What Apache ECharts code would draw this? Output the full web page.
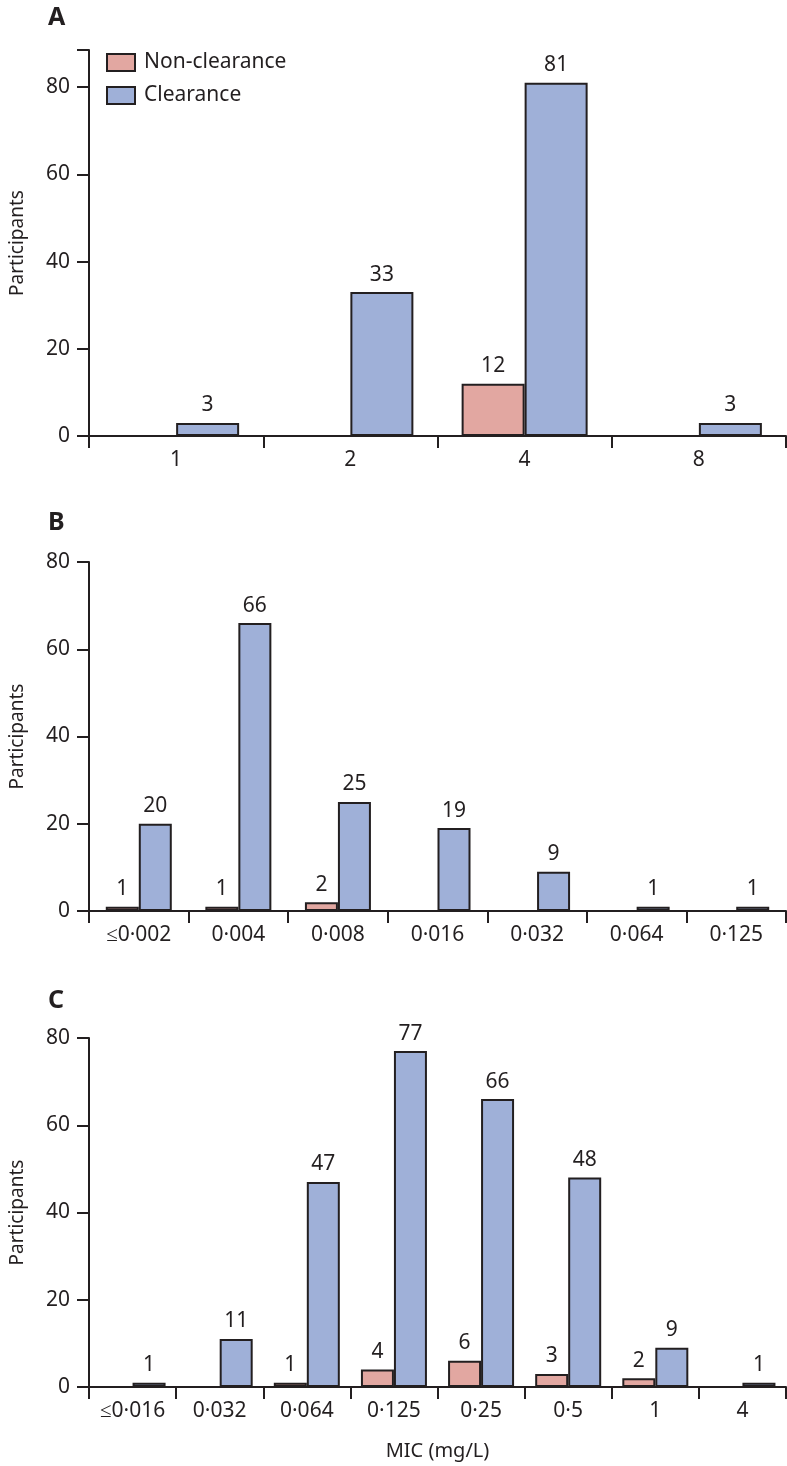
<!DOCTYPE html>
<html>
<head>
<meta charset="utf-8">
<script src="https://cdn.jsdelivr.net/npm/echarts@6/dist/echarts.min.js"></script>
<style>
html,body{margin:0;padding:0;background:#fff;}
#c{width:787px;height:1466px;}
</style>
</head>
<body>
<div id="c"></div>
<script>
// ---- Data ----
var catsA = ['1', '2', '4', '8'];
var nonClearA = [null, null, 12, null];
var clearA = [3, 33, 81, 3];

var catsB = ['≤0·002', '0·004', '0·008', '0·016', '0·032', '0·064', '0·125'];
var nonClearB = [1, 1, 2, null, null, null, null];
var clearB = [20, 66, 25, 19, 9, 1, 1];

var catsC = ['≤0·016', '0·032', '0·064', '0·125', '0·25', '0·5', '1', '4'];
var nonClearC = [null, null, 1, 4, 6, 3, 2, null];
var clearC = [1, 11, 47, 77, 66, 48, 9, 1];

var yTicks = [0, 20, 40, 60, 80];
var panelLabels = ['A', 'B', 'C'];

// ---- Styles ----
var FONT = 'Noto Sans';
var INK = '#231f20';
var PINK = '#e2a7a1';
var BLUE = '#9fb0d8';

var chart = echarts.init(document.getElementById('c'), null, {renderer: 'canvas'});

var grids = [
  {left: 82, right: 1, top: 50, height: 386},
  {left: 82, right: 1, top: 562, height: 349},
  {left: 82, right: 1, top: 1038, height: 349}
];

function xAxis(idx, cats, name) {
  var ax = {
    type: 'category', gridIndex: idx, data: cats,
    axisLine: {show: true, lineStyle: {color: INK, width: 2}},
    axisTick: {show: true, length: 12, interval: 0, lineStyle: {color: INK, width: 2}},
    axisLabel: {color: INK, fontFamily: FONT, fontSize: 21, margin: 14},
    z: 5
  };
  if (name) {
    ax.name = name;
    ax.nameLocation = 'middle';
    ax.nameGap = 54;
    ax.nameTextStyle = {color: INK, fontFamily: FONT, fontSize: 20};
  }
  return ax;
}

function yAxis(idx, max) {
  return {
    type: 'value', gridIndex: idx, min: 0, max: max, interval: 20,
    name: 'Participants', nameLocation: 'middle', nameGap: 62,
    nameTextStyle: {color: INK, fontFamily: FONT, fontSize: 19},
    axisLine: {show: true, lineStyle: {color: INK, width: 2}},
    axisTick: {show: true, length: 12, lineStyle: {color: INK, width: 2}},
    axisLabel: {color: INK, fontFamily: FONT, fontSize: 21, margin: 19,
      formatter: function (v) { return yTicks.indexOf(v) >= 0 ? String(v) : ''; }},
    splitLine: {show: false},
    z: 5
  };
}

function barSeries(name, data, idx, color, width) {
  return {
    name: name, type: 'bar', xAxisIndex: idx, yAxisIndex: idx, data: data,
    barWidth: width, barGap: '0%',
    itemStyle: {color: color, borderColor: INK, borderWidth: 2},
    label: {show: true, position: 'top', distance: 7, color: INK, fontFamily: FONT, fontSize: 21},
    emphasis: {disabled: true},
    animation: false
  };
}

var option = {
  animation: false,
  title: panelLabels.map(function (t, i) {
    return {
      text: t, left: 43, top: [0, 505, 983][i],
      textStyle: {color: INK, fontFamily: FONT, fontSize: 25, fontWeight: 'bold'}
    };
  }),
  legend: {
    data: ['Non-clearance', 'Clearance'],
    orient: 'vertical', left: 101, top: 47,
    itemWidth: 28, itemHeight: 17, itemGap: 12,
    icon: 'rect',
    textStyle: {color: INK, fontFamily: FONT, fontSize: 21, padding: [0, 0, 0, 4]},
    selectedMode: false
  },
  grid: grids,
  xAxis: [xAxis(0, catsA), xAxis(1, catsB), xAxis(2, catsC, 'MIC (mg/L)')],
  yAxis: [yAxis(0, 88.5), yAxis(1, 80), yAxis(2, 80)],
  series: [
    barSeries('Non-clearance', nonClearA, 0, PINK, 63),
    barSeries('Clearance', clearA, 0, BLUE, 63),
    barSeries('Non-clearance', nonClearB, 1, PINK, 33),
    barSeries('Clearance', clearB, 1, BLUE, 33),
    barSeries('Non-clearance', nonClearC, 2, PINK, 33),
    barSeries('Clearance', clearC, 2, BLUE, 33)
  ]
};
chart.setOption(option);
</script>
</body>
</html>
